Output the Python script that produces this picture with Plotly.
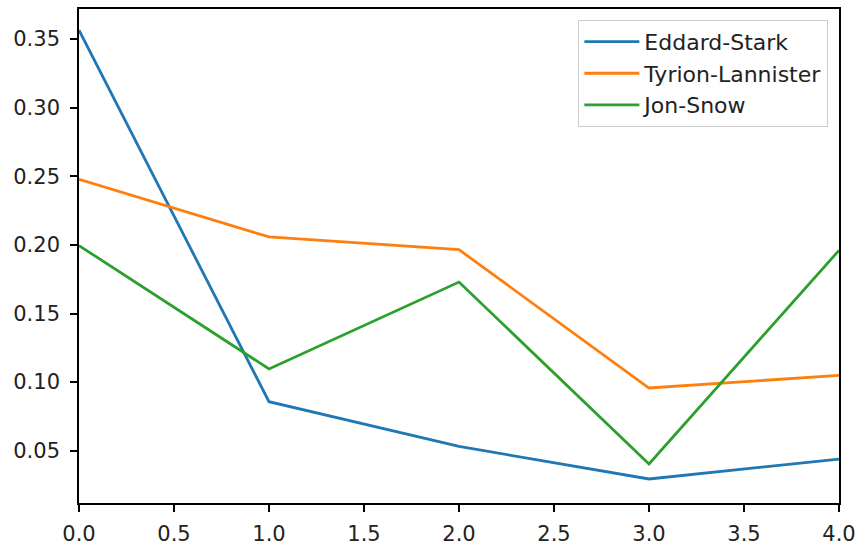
import plotly.graph_objects as go

x_vals = [0, 1, 2, 3, 4]
eddard_stark = [0.3565, 0.0857, 0.0531, 0.0294, 0.0439]
tyrion_lannister = [0.2478, 0.2058, 0.1965, 0.0957, 0.1049]
jon_snow = [0.1995, 0.1096, 0.1729, 0.0403, 0.1960]
series_names = ["Eddard-Stark", "Tyrion-Lannister", "Jon-Snow"]
colors = ["#1f77b4", "#ff7f0e", "#2ca02c"]
x_ticks = [0.0, 0.5, 1.0, 1.5, 2.0, 2.5, 3.0, 3.5, 4.0]
y_ticks = [0.05, 0.10, 0.15, 0.20, 0.25, 0.30, 0.35]

fig = go.Figure()
for name, vals, c in zip(series_names, [eddard_stark, tyrion_lannister, jon_snow], colors):
    fig.add_trace(go.Scatter(x=x_vals, y=vals, mode="lines", name=name,
                             line=dict(color=c, width=2.8)))

axis_common = dict(
    showgrid=False, zeroline=False, showline=True, linecolor="#000", linewidth=1.6,
    mirror=True, ticks="outside", ticklen=7, tickwidth=1.6, tickcolor="#000",
    automargin=False,
    tickfont=dict(family="DejaVu Sans", size=21, color="#222"),
)

fig.update_xaxes(range=[0, 4], tickvals=x_ticks,
                 ticktext=[f"{v:.1f}" for v in x_ticks], ticklabelstandoff=4, **axis_common)
fig.update_yaxes(range=[0.0119, 0.3719], tickvals=y_ticks,
                 ticktext=[f"{v:.2f}" for v in y_ticks], ticklabelstandoff=6, **axis_common)

fig.update_layout(
    width=861, height=546,
    margin=dict(l=79, r=22, t=9, b=43),
    plot_bgcolor="white", paper_bgcolor="white",
    font=dict(family="DejaVu Sans", size=21, color="#222"),
    legend=dict(x=0.986, y=0.978, xanchor="right", yanchor="top", itemwidth=55,
                bgcolor="rgba(255,255,255,0.8)", bordercolor="#cccccc", borderwidth=1,
                font=dict(family="DejaVu Sans", size=22, color="#222")),
    showlegend=True,
)

fig.write_html("out.html", config={"displayModeBar": False},
               post_script="document.body.style.margin='0';document.documentElement.style.overflow='hidden';")
